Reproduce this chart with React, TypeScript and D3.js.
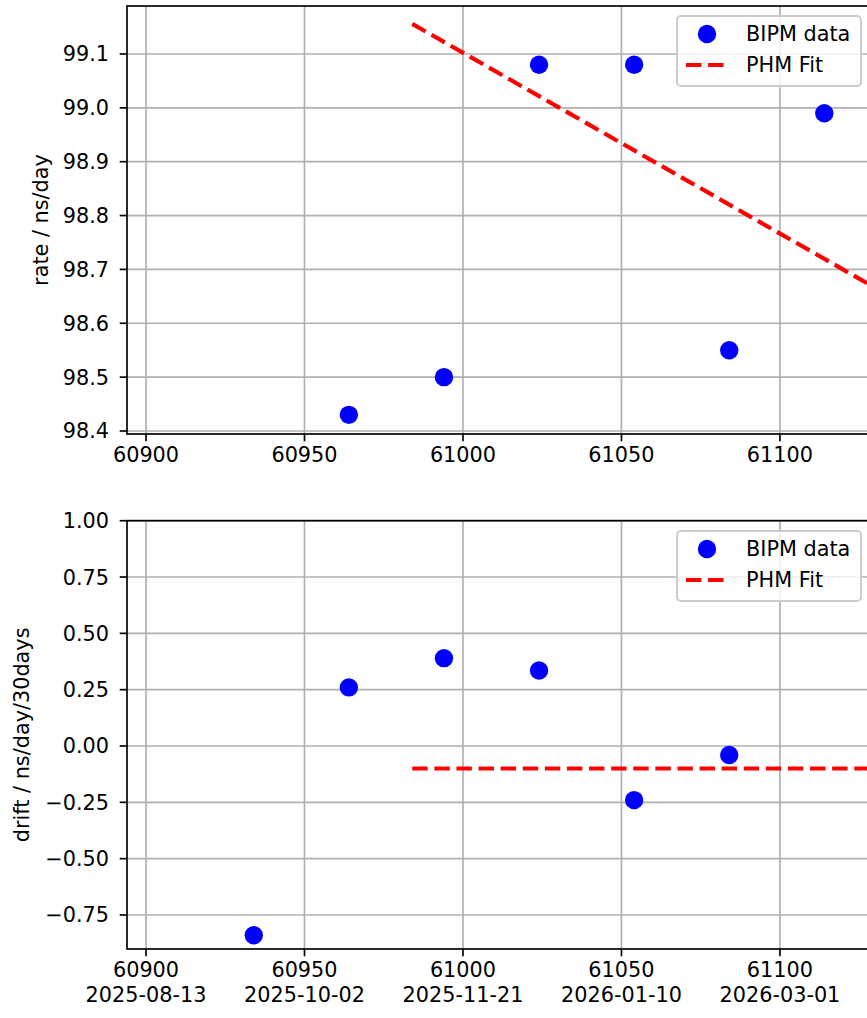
import React from "react";
import * as d3 from "d3";

const rateMJD = [60964, 60994, 61024, 61054, 61084, 61114];
const rateVals = [98.43, 98.5, 99.08, 99.08, 98.55, 98.99];
const rateFitMJD = [60984, 61144];
const rateFitVals = [99.156, 98.619];

const driftMJD = [60934, 60964, 60994, 61024, 61054, 61084];
const driftVals = [-0.84, 0.26, 0.39, 0.335, -0.24, -0.04];
const driftFitMJD = [60984, 61144];
const driftFitVals = [-0.1, -0.1];

const xTicks = [60900, 60950, 61000, 61050, 61100];
const xDateLabels = ["2025-08-13", "2025-10-02", "2025-11-21", "2026-01-10", "2026-03-01"];
const rateTicks = [98.4, 98.5, 98.6, 98.7, 98.8, 98.9, 99.0, 99.1];
const driftTicks = [-0.75, -0.5, -0.25, 0, 0.25, 0.5, 0.75, 1.0];

const FONT = "DejaVu Sans, sans-serif";
const FS = 20.8;
const LW = 1.67;
const TICK = 7.3;

const AX_L = 127;
const AX_R = 869;

function fmtNeg(s: string) {
  return s.replace("-", "\u2212");
}

type PanelProps = {
  id: string;
  top: number;
  bottom: number;
  yDomain: [number, number];
  yTicks: number[];
  yFmt: (v: number) => string;
  yLabel: string;
  yLabelX: number;
  xs: number[];
  ys: number[];
  fitX: number[];
  fitY: number[];
  dates?: string[];
  legendTop: number;
};

function Panel(p: PanelProps) {
  const x = d3.scaleLinear().domain([60894.0, 61128.1]).range([AX_L, AX_R]);
  const y = d3.scaleLinear().domain(p.yDomain).range([p.bottom, p.top]);
  const line = d3
    .line<number>()
    .x((_, i) => x(p.fitX[i]))
    .y((d) => y(d));
  const lw = 4.17;
  const legL = 677;
  const legR = 861;
  const legT = p.legendTop;
  const legB = legT + 70;
  return (
    <g>
      <defs>
        <clipPath id={p.id}>
          <rect x={AX_L} y={p.top} width={AX_R - AX_L} height={p.bottom - p.top} />
        </clipPath>
      </defs>
      {/* grid */}
      <g stroke="#b0b0b0" strokeWidth={LW}>
        {xTicks.map((t) => (
          <line key={"gx" + t} x1={x(t)} x2={x(t)} y1={p.top} y2={p.bottom} />
        ))}
        {p.yTicks.map((t) => (
          <line key={"gy" + t} x1={AX_L} x2={AX_R} y1={y(t)} y2={y(t)} />
        ))}
      </g>
      {/* fit line */}
      <g clipPath={`url(#${p.id})`}>
        <path
          d={line(p.fitY) || ""}
          fill="none"
          stroke="#ff0000"
          strokeWidth={lw}
          strokeDasharray="15.4 6.7"
        />
      </g>
      {/* points */}
      <g fill="#0000ff">
        {p.xs.map((v, i) => (
          <circle key={"pt" + i} cx={x(v)} cy={y(p.ys[i])} r={9.2} />
        ))}
      </g>
      {/* spines */}
      <rect
        x={AX_L}
        y={p.top}
        width={AX_R - AX_L}
        height={p.bottom - p.top}
        fill="none"
        stroke="#000"
        strokeWidth={LW}
      />
      {/* ticks */}
      <g stroke="#000" strokeWidth={LW}>
        {xTicks.map((t) => (
          <line key={"tx" + t} x1={x(t)} x2={x(t)} y1={p.bottom} y2={p.bottom + TICK} />
        ))}
        {p.yTicks.map((t) => (
          <line key={"ty" + t} x1={AX_L - TICK} x2={AX_L} y1={y(t)} y2={y(t)} />
        ))}
      </g>
      <g fontFamily={FONT} fontSize={FS} fill="#000">
        {xTicks.map((t, i) => (
          <text key={"lx" + t} x={x(t)} y={p.bottom + 27.5} textAnchor="middle">
            {String(t)}
            {p.dates ? (
              <tspan x={x(t)} dy={25}>
                {p.dates[i]}
              </tspan>
            ) : null}
          </text>
        ))}
        {p.yTicks.map((t) => (
          <text key={"ly" + t} x={109} y={y(t)} dy="0.36em" textAnchor="end">
            {fmtNeg(p.yFmt(t))}
          </text>
        ))}
        <text
          transform={`translate(${p.yLabelX},${(p.top + p.bottom) / 2}) rotate(-90)`}
          textAnchor="middle"
          dy="0.36em"
        >
          {p.yLabel}
        </text>
      </g>
      {/* legend */}
      <g>
        <rect
          x={legL}
          y={legT}
          width={legR - legL}
          height={legB - legT}
          rx={4}
          fill="#ffffff"
          fillOpacity={0.8}
          stroke="#cccccc"
          strokeWidth={2}
        />
        <circle cx={707} cy={legT + 18} r={9.2} fill="#0000ff" />
        <line
          x1={686}
          x2={727}
          y1={legT + 49}
          y2={legT + 49}
          stroke="#ff0000"
          strokeWidth={lw}
          strokeDasharray="15.4 6.7"
        />
        <g fontFamily={FONT} fontSize={FS} fill="#000">
          <text x={746} y={legT + 18} dy="0.36em">
            BIPM data
          </text>
          <text x={746} y={legT + 49} dy="0.36em">
            PHM Fit
          </text>
        </g>
      </g>
    </g>
  );
}

export default function App() {
  return (
    <div style={{ position: "absolute", left: 0, top: 0 }}>
      <svg width={867} height={1018} style={{ display: "block", background: "#fff" }}>
        <rect x={0} y={0} width={867} height={1018} fill="#fff" />
        <Panel
          id="clipTop"
          top={6}
          bottom={434}
          yDomain={[98.3944, 99.1891]}
          yTicks={rateTicks}
          yFmt={(v) => v.toFixed(1)}
          yLabel="rate / ns/day"
          yLabelX={40}
          xs={rateMJD}
          ys={rateVals}
          fitX={rateFitMJD}
          fitY={rateFitVals}
          legendTop={16}
        />
        <Panel
          id="clipBot"
          top={520.7}
          bottom={949}
          yDomain={[-0.901, 1.0]}
          yTicks={driftTicks}
          yFmt={(v) => v.toFixed(2)}
          yLabel="drift / ns/day/30days"
          yLabelX={21}
          xs={driftMJD}
          ys={driftVals}
          fitX={driftFitMJD}
          fitY={driftFitVals}
          dates={xDateLabels}
          legendTop={531}
        />
      </svg>
    </div>
  );
}
